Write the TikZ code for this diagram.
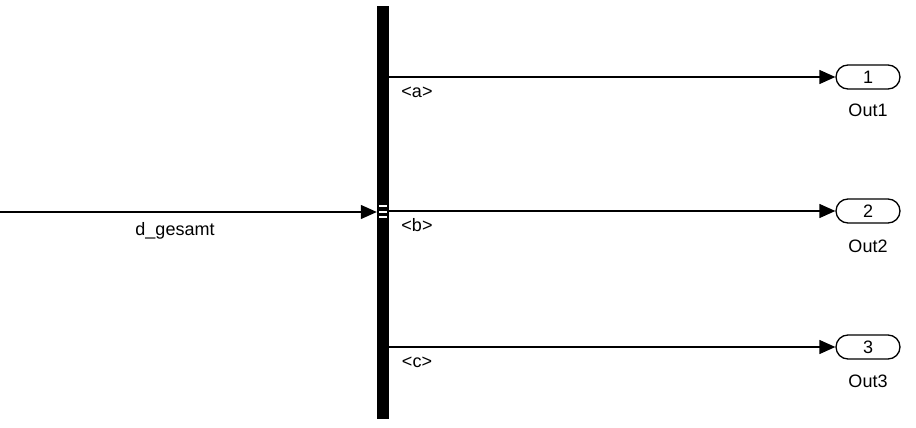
\documentclass[tikz,border=0pt]{standalone}
\usepackage{fontspec}
\setmainfont{Liberation Sans}
\usetikzlibrary{arrows.meta}
\begin{document}
\begin{tikzpicture}[x=1pt,y=-1pt,
  font=\fontsize{18}{20}\selectfont,
  sig/.style={draw, line width=1.3pt, -{Triangle[length=16pt,width=14pt]}},
  port/.style={draw, line width=1.3pt, rounded corners=12pt, minimum width=64pt, minimum height=24pt, inner sep=0pt},
  lbl/.style={anchor=base, inner sep=0pt},
  barbox/.style={fill=black, draw=none, minimum width=12pt, minimum height=413pt, inner sep=0pt}]
\useasboundingbox (0,0) rectangle (916,428);
% bus selector bar
\node[barbox] (bar) at (383,212.5) {};
\fill[white] (379,205) rectangle (387,207.3);
\fill[white] (379,210.7) rectangle (387,212.7);
\fill[white] (379,216) rectangle (387,218.3);
% input
\coordinate (in) at (0,212);
\draw[sig] (in) -- (bar.west |- in);
\node[lbl] (dg) at (175,235) {d\_gesamt};
% outputs
\node[port] (o1) at (868,77) {1};
\node[port] (o2) at (868,211) {2};
\node[port] (o3) at (868,347) {3};
\draw[sig] (bar.east |- o1) -- (o1.west);
\draw[sig] (bar.east |- o2) -- (o2.west);
\draw[sig] (bar.east |- o3) -- (o3.west);
\node[lbl] (la) at (417,97) {<a>};
\node[lbl] (lb) at (417,231) {<b>};
\node[lbl] (lc) at (417,367) {<c>};
\node[lbl] (n1) at (868,117) {Out1};
\node[lbl] (n2) at (868,252) {Out2};
\node[lbl] (n3) at (868,387) {Out3};
\end{tikzpicture}
\end{document}
